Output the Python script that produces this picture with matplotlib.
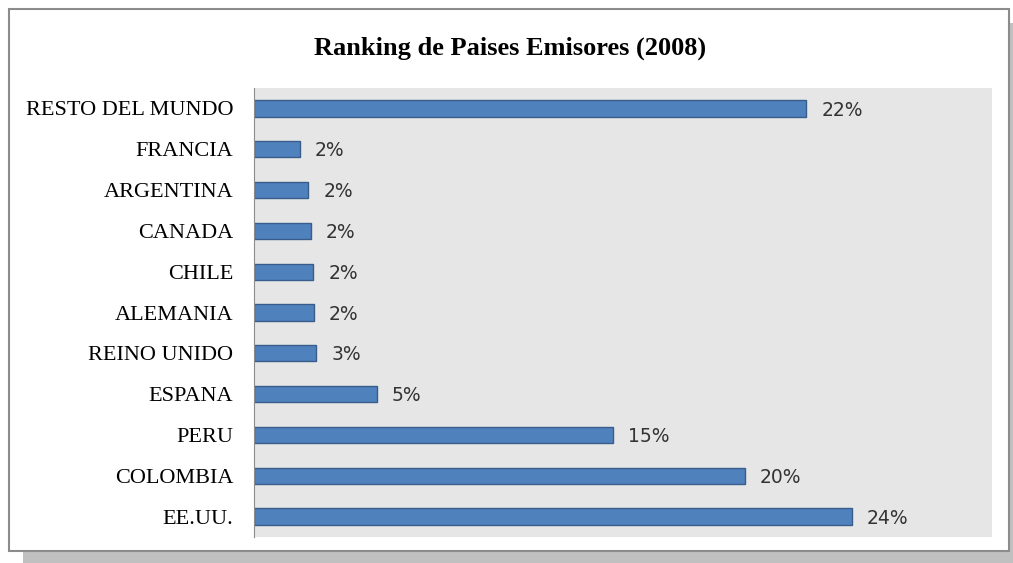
import matplotlib.pyplot as plt
from matplotlib.patches import Rectangle

# data (top to bottom as shown)
countries = ["RESTO DEL MUNDO", "FRANCIA", "ARGENTINA", "CANADA", "CHILE",
             "ALEMANIA", "REINO UNIDO", "ESPANA", "PERU", "COLOMBIA", "EE.UU."]
shares = [22.45, 1.86, 2.2, 2.3, 2.4, 2.42, 2.52, 4.98, 14.6, 19.95, 24.3]
title = "Ranking de Paises Emisores (2008)"


def main():
    fig = plt.figure(figsize=(10.13, 5.63), dpi=100)
    W, H = 1013, 563

    # shadow + frame, kept behind the axes
    fig.patches.append(Rectangle((23 / W, 0), (W - 23) / W, (H - 23) / H,
                                 transform=fig.transFigure, facecolor="#c0c0c0",
                                 edgecolor="none", zorder=-3))
    fig.patches.append(Rectangle((9 / W, (H - 551) / H), 1000 / W, 542 / H,
                                 transform=fig.transFigure, facecolor="white",
                                 edgecolor="#8c8c8c", linewidth=1.5, zorder=-2))

    ax = fig.add_axes([254 / W, 1 - 537 / H, (992 - 254) / W, (537 - 88) / H])
    ax.set_facecolor("#e6e6e6")

    y = list(range(len(countries)))[::-1]
    ax.barh(y, shares, height=0.4, color="#4f81bd", edgecolor="#385d8a", linewidth=1)

    for yi, v in zip(y, shares):
        ax.text(v + 0.62, yi - 0.04, f"{round(v)}%", va="center", ha="left",
                fontsize=13.5, color="#333333", family="DejaVu Sans")

    ax.set_xlim(0, 30)
    ax.set_ylim(-0.5, len(countries) - 0.5)
    ax.set_yticks(y)
    ax.set_yticklabels(countries, family="Liberation Serif", fontsize=16)
    ax.tick_params(axis="y", length=0, pad=15)
    ax.set_xticks([])
    for s in ["top", "right", "bottom"]:
        ax.spines[s].set_visible(False)
    ax.spines["left"].set_color("#8c8c8c")

    fig.text(510 / W, 1 - 48 / H, title, ha="center", va="center",
             family="Liberation Serif", fontweight="bold", fontsize=19)

    fig.savefig("out.png", dpi=100)


if __name__ == "__main__":
    main()
